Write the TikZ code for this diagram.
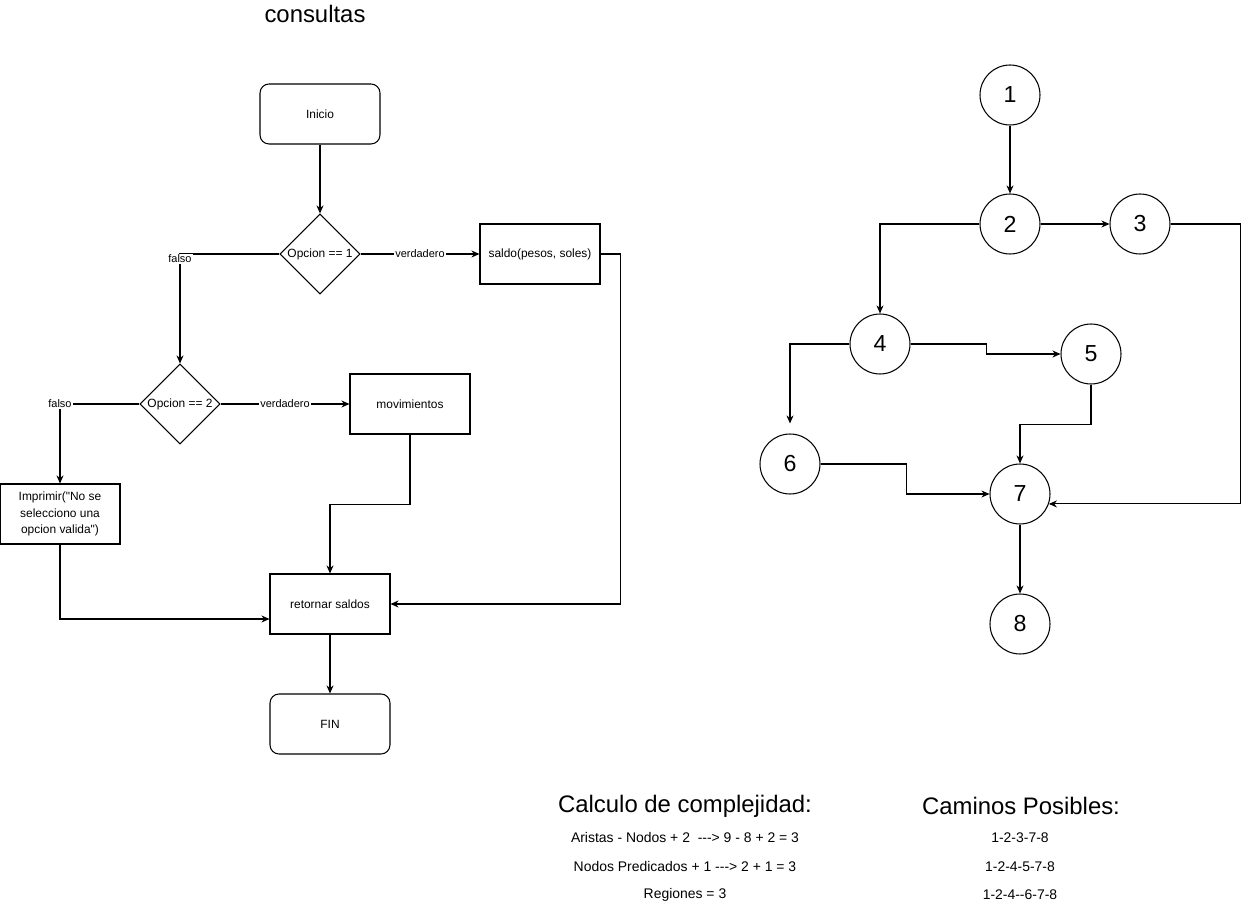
\documentclass[tikz,border=0pt]{standalone}
\usepackage{fontspec}
\setmainfont{Liberation Sans}[Ligatures=TeXOff]
\usetikzlibrary{shapes.geometric,arrows.meta,calc}
\begin{document}
\begin{tikzpicture}[x=0.02cm,y=-0.02cm,
  line width=0.6pt,
  >={Stealth[length=4.6pt,width=4pt]},
  txt/.style={font=\fontsize{6.8}{9.6}\selectfont},
  btxt/.style={font=\fontsize{7.94}{9.6}\selectfont},
  box/.style={draw, txt, minimum width=2.4cm, minimum height=1.2cm, inner sep=1pt, align=center},
  rbox/.style={box, rounded corners=0.18cm},
  dec/.style={draw, txt, diamond, aspect=1, inner sep=0pt, minimum width=1.6cm, minimum height=1.6cm},
  lbl/.style={font=\fontsize{6.24}{7}\selectfont, fill=white, inner sep=0.8pt},
  circ/.style={draw, circle, minimum size=1.2cm, inner sep=0pt, font=\fontsize{13.2}{14}\selectfont},
  big/.style={font=\fontsize{13.6}{15}\selectfont},
  conn/.style={->}
]
\useasboundingbox (0,0) rectangle (1249,915);

% title
\node[big] (title) at (315,14) {consultas};

% flowchart
\node[rbox] (ini) at (320,114) {Inicio};
\node[dec] (d1) at (320,254) {Opcion == 1};
\node[box] (saldo) at (540,254) {saldo(pesos, soles)};
\node[dec] (d2) at (180,404) {Opcion == 2};
\node[box] (mov) at (410,404) {movimientos};
\node[box] (imp) at (60,514) {Imprimir("No se\\selecciono una\\opcion valida")};
\node[box] (ret) at (330,604) {retornar saldos};
\node[rbox] (fin) at (330,724) {FIN};

\draw[conn] (ini) -- (d1);
\draw[conn] (d1.east) -- node[lbl] {verdadero} (saldo.west);
\draw[conn] (d1.west) -| node[lbl, pos=0.5, yshift=-0.1cm] {falso} (d2.north);
\draw[conn] (d2.east) -- node[lbl] {verdadero} (mov.west);
\draw[conn] (d2.west) -| node[lbl, pos=0.5] {falso} (imp.north);
\draw[conn] (saldo.east) -- ++(20,0) |- (ret.east);
\draw[conn] (mov.south) -- ++(0,70) -| (ret.north);
\draw[conn] (imp.south) |- ([yshift=-0.3cm]ret.west);
\draw[conn] (ret) -- (fin);

% graph
\node[circ] (n1) at (1010,95) {1};
\node[circ] (n2) at (1010,224) {2};
\node[circ] (n3) at (1140,224) {3};
\node[circ] (n4) at (880,344) {4};
\node[circ] (n5) at (1091,354) {5};
\node[circ] (n6) at (790,464) {6};
\node[circ] (n7) at (1020,494) {7};
\node[circ] (n8) at (1020,624) {8};

\draw[conn] (n1) -- (n2);
\draw[conn] (n2) -- (n3);
\draw[conn] (n2.west) -| (n4.north);
\draw[conn] (n3.east) -- ++(70,0) |- (n7.-19.47);
\draw[conn] (n4.east) -- ++(76,0) |- (n5.west);
\draw[conn, shorten >=0.2cm] (n4.west) -| (n6.north);
\draw[conn] (n5.south) -- ++(0,40) -| (n7.north);
\draw[conn] (n6.east) -- ++(86,0) |- (n7.west);
\draw[conn] (n7) -- (n8);

% bottom texts
\node[big] (calc) at (685,806) {Calculo de complejidad:};
\node[btxt] (c1) at (685,838) {Aristas - Nodos + 2 \ ---> 9 - 8 + 2 = 3};
\node[btxt] (c2) at (685,867) {Nodos Predicados + 1 ---> 2 + 1 = 3};
\node[btxt] (c3) at (685,895) {Regiones = 3};
\node[big] (cam) at (1021,806) {Caminos Posibles:};
\node[btxt] (p1) at (1020,838) {1-2-3-7-8};
\node[btxt] (p2) at (1020,867) {1-2-4-5-7-8};
\node[btxt] (p3) at (1020,895) {1-2-4--6-7-8};
\end{tikzpicture}
\end{document}
